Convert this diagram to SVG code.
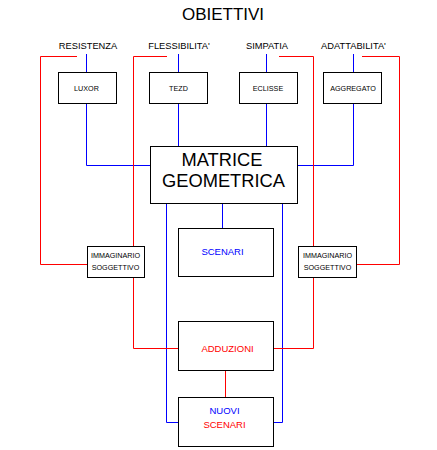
<svg xmlns="http://www.w3.org/2000/svg" width="437" height="450" viewBox="0 0 437 450">
<style>
text{font-family:"Liberation Sans",Arial,sans-serif;text-anchor:middle;fill:#000}
.box{fill:#fff;stroke:#000;stroke-width:1}
.b{fill:none;stroke:#0000ff;stroke-width:1}
.r{fill:none;stroke:#ff0000;stroke-width:1}
.lbl{font-size:9.3px}
.sm{font-size:7.2px}
.big{font-size:18.3px}
.mid{font-size:9.5px}
.blue{fill:#0000ff}
.red{fill:#ff0000}
</style>
<rect width="437" height="450" fill="#fff"/>
<g id="connectors">
<path class="b" d="M86.5 54V72.5M86.5 103.5V165.5H150.5"/>
<path class="b" d="M178.5 54V72.5M178.5 103.5V146.5"/>
<path class="b" d="M266.5 54V72.5M266.5 103.5V146.5"/>
<path class="b" d="M353.5 54V72.5M353.5 103.5V165.5H297.5"/>
<path class="b" d="M166.5 203.5V422.5H178.5"/>
<path class="b" d="M282.5 203.5V422.5H273.5"/>
<path class="b" d="M222.5 203.5V228.5"/>
<path class="r" d="M77 56.5H40.5V264.5H87.5"/>
<path class="r" d="M167 56.5H133.5V246.5M133.5 277.5V348.5H178.5"/>
<path class="r" d="M279 56.5H313.5V246.5M313.5 277.5V348.5H273.5"/>
<path class="r" d="M362 56.5H399.5V264.5H356.5"/>
<path class="r" d="M225.5 370.5V397.5"/>
</g>
<g id="title"><text x="223" y="20" style="font-size:17px">OBIETTIVI</text></g>
<g id="resistenza"><text class="lbl" x="88" y="49">RESISTENZA</text></g>
<g id="flessibilita"><text class="lbl" x="179" y="49">FLESSIBILITA'</text></g>
<g id="simpatia"><text class="lbl" x="267" y="49">SIMPATIA</text></g>
<g id="adattabilita"><text class="lbl" x="353.5" y="49">ADATTABILITA'</text></g>
<g id="luxor"><rect class="box" x="58.5" y="72.5" width="58" height="31"/><text class="sm" x="86.5" y="90.5">LUXOR</text></g>
<g id="tezd"><rect class="box" x="149.5" y="72.5" width="58" height="31"/><text class="sm" x="178.5" y="90.5">TEZD</text></g>
<g id="eclisse"><rect class="box" x="239.5" y="72.5" width="58" height="31"/><text class="sm" x="268" y="90.5">ECLISSE</text></g>
<g id="aggregato"><rect class="box" x="323.5" y="72.5" width="58" height="31"/><text class="sm" x="353" y="90.5">AGGREGATO</text></g>
<g id="matrice"><rect class="box" x="150.5" y="146.5" width="147" height="57"/><text class="big" x="222" y="165.5">MATRICE</text><text class="big" x="223.5" y="186.5">GEOMETRICA</text></g>
<g id="scenari"><rect class="box" x="178.5" y="228.5" width="95" height="48"/><text class="mid blue" x="222.5" y="255">SCENARI</text></g>
<g id="immaginario-left"><rect class="box" x="87.5" y="246.5" width="57" height="31"/><text class="sm" x="115.5" y="257.5">IMMAGINARIO</text><text class="sm" x="115.5" y="270">SOGGETTIVO</text></g>
<g id="immaginario-right"><rect class="box" x="298.5" y="246.5" width="58" height="31"/><text class="sm" x="327.5" y="257.5">IMMAGINARIO</text><text class="sm" x="327.5" y="270">SOGGETTIVO</text></g>
<g id="adduzioni"><rect class="box" x="178.5" y="321.5" width="95" height="49"/><text class="mid red" x="227.5" y="351.5">ADDUZIONI</text></g>
<g id="nuovi-scenari"><rect class="box" x="178.5" y="397.5" width="95" height="49"/><text class="mid blue" x="224.5" y="414">NUOVI</text><text class="mid red" x="224.5" y="428">SCENARI</text></g>
</svg>
